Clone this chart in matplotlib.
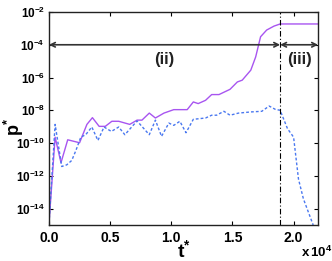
import numpy as np
import matplotlib
matplotlib.use("Agg")
import matplotlib.pyplot as plt
from matplotlib.ticker import FixedLocator

fam = "Liberation Sans"
plt.rcParams["font.family"] = [fam, "DejaVu Sans"]
plt.rcParams["mathtext.fontset"] = "custom"
plt.rcParams["mathtext.rm"] = fam + ":bold"
plt.rcParams["mathtext.it"] = fam + ":bold"
plt.rcParams["mathtext.bf"] = fam + ":bold"

# data (t in units of 1e4, log10 p*)
t_solid = [0.0, 0.05, 0.098, 0.153, 0.25, 0.31, 0.355, 0.41, 0.46, 0.514, 0.57,
           0.66, 0.72, 0.76, 0.82, 0.87, 0.94, 1.02, 1.13, 1.18, 1.22, 1.28,
           1.33, 1.39, 1.48, 1.54, 1.58, 1.65, 1.69, 1.73, 1.78, 1.84, 1.89, 2.2]
logp_solid = [-14.9, -9.64, -11.2, -9.8, -9.98, -8.86, -8.45, -8.98, -8.98, -8.67, -8.67,
              -8.86, -8.6, -8.6, -8.17, -8.47, -8.17, -7.96, -7.96, -7.49, -7.59, -7.39,
              -7.04, -7.04, -6.72, -6.27, -6.16, -5.55, -4.74, -3.51, -3.1, -2.86, -2.73, -2.73]

t_dash = [0.0, 0.05, 0.104, 0.145, 0.186, 0.22, 0.26, 0.30, 0.35, 0.40, 0.45, 0.51,
          0.57, 0.62, 0.72, 0.82, 0.87, 0.92, 0.98, 1.02, 1.07, 1.12, 1.18, 1.28,
          1.33, 1.37, 1.43, 1.48, 1.55, 1.65, 1.74, 1.80, 1.85, 1.89, 1.95, 2.0,
          2.04, 2.08, 2.16]
logp_dash = [-14.9, -8.86, -11.43, -11.33, -11.06, -10.45, -9.64, -9.49, -9.02, -9.84, -9.02, -9.29,
             -9.02, -9.49, -8.65, -9.49, -8.6, -9.59, -8.78, -8.92, -8.67, -9.37, -8.55, -8.47,
             -8.3, -8.3, -8.06, -8.3, -8.17, -8.1, -8.06, -7.74, -7.94, -8.0, -9.12, -9.64,
             -12.2, -13.4, -15.0]

t_switch = 1.89
t_end = 2.2
arrow_level = 1e-4
ytick_exps = [-2, -4, -6, -8, -10, -12, -14]
xticks = [0.0, 0.5, 1.0, 1.5, 2.0]

fig = plt.figure(figsize=(3.32, 2.61), dpi=100)
ax = fig.add_axes([0.1476, 0.138, 0.8104, 0.816])

ax.plot(np.array(t_solid) * 1e4, 10 ** np.array(logp_solid), color="#a855f0", lw=1.0)
ax.plot(np.array(t_dash) * 1e4, 10 ** np.array(logp_dash), color="#4a78f0", lw=1.0,
        linestyle=(0, (2, 1.5)))
ax.axvline(t_switch * 1e4, color="black", lw=0.8, linestyle=(0, (5, 2, 1, 2)))

ax.set_yscale("log")
ax.set_xlim(0, 2.2e4)
ax.set_ylim(1e-15, 1e-2)

arrowprops = dict(arrowstyle="<->", color="#333333", lw=1.2, shrinkA=0, shrinkB=0,
                  mutation_scale=8)
ax.annotate("", xy=(0, arrow_level), xytext=(t_switch * 1e4, arrow_level), arrowprops=arrowprops)
ax.annotate("", xy=(t_switch * 1e4, arrow_level), xytext=(t_end * 1e4, arrow_level), arrowprops=arrowprops)

ax.text(0.94e4, 10 ** -4.9, "(ii)", ha="center", va="center", fontsize=12, fontweight="bold",
        color="#222222")
ax.text(2.05e4, 10 ** -4.9, "(iii)", ha="center", va="center", fontsize=12, fontweight="bold",
        color="#222222")

ax.yaxis.set_major_locator(FixedLocator([10.0 ** e for e in ytick_exps]))
ax.yaxis.set_minor_locator(FixedLocator([]))
ax.set_yticklabels([r"$\mathrm{10^{%d}}$" % e for e in ytick_exps])
ax.xaxis.set_major_locator(FixedLocator([v * 1e4 for v in xticks]))
ax.set_xticklabels(["%.1f" % v for v in xticks])

ax.tick_params(direction="in", top=True, right=True, length=3, width=0.8, pad=4)
ax.tick_params(axis="x", labelsize=10)
ax.tick_params(axis="y", labelsize=8.5, pad=3)
for lab in ax.get_xticklabels() + ax.get_yticklabels():
    lab.set_fontweight("bold")
for s in ax.spines.values():
    s.set_linewidth(1.0)
    s.set_color("#222222")

ax.text(0.935, -0.095, r"$\mathrm{x\,10^{4}}$", transform=ax.transAxes, ha="left",
        va="top", fontsize=9.5)
ax.set_xlabel(r"$\mathrm{t^{*}}$", fontsize=14, labelpad=-4)
fig.text(0.006, 0.515, r"$\mathrm{p^{*}}$", rotation=90, ha="left", va="center", fontsize=13)

fig.savefig("out.png", dpi=100)
